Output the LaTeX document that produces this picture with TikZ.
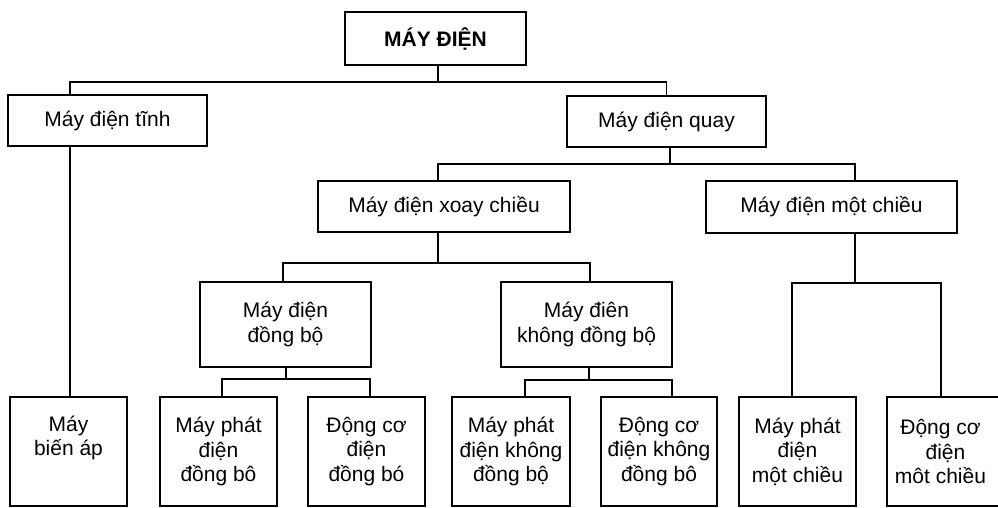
\documentclass[tikz,border=0pt]{standalone}
\usepackage{fontspec}
\setmainfont{Liberation Sans}
\begin{document}
\begin{tikzpicture}[x=1pt,y=-1pt,
  box/.style={draw, line width=1.5pt, rectangle, inner sep=0pt, align=center,
    font=\fontsize{21}{24.5}\selectfont},
  conn/.style={line width=1.5pt}]
\useasboundingbox (0,0) rectangle (998,507);
% boxes
\node[box, line width=1.8pt, minimum width=181pt, minimum height=53pt, font=\fontsize{21}{24.5}\selectfont\bfseries] (root) at (435.5,38.5) {MÁY ĐIỆN};
\node[box, minimum width=199pt, minimum height=51pt] (tinh) at (107.5,120.5) {Máy điện tĩnh};
\node[box, minimum width=199pt, minimum height=51pt] (quay) at (666.5,121.5) {Máy điện quay};
\node[box, minimum width=252pt, minimum height=51pt] (xoay) at (444,206.5) {Máy điện xoay chiều};
\node[box, minimum width=251pt, minimum height=52pt] (motc) at (831.5,207) {Máy điện một chiều};
\node[box, minimum width=171pt, minimum height=85pt] (dongbo) at (285.5,324.5) {Máy điện\\đồng bộ};
\node[box, minimum width=171pt, minimum height=85pt] (kdb) at (586.5,324.5) {Máy điên\\không đồng bộ};
\node[box, minimum width=117pt, minimum height=109pt] (bienap) at (68.5,451.5) {Máy\\biến áp\\\strut};
\node[box, minimum width=117pt, minimum height=109pt] (pd1) at (218.5,451.5) {Máy phát\\điện\\đồng bô};
\node[box, minimum width=117pt, minimum height=109pt] (dc1) at (366.5,451.5) {Động cơ\\điện\\đồng bó};
\node[box, minimum width=118pt, minimum height=109pt] (pd2) at (511,451.5) {Máy phát\\điện không\\đồng bộ};
\node[box, minimum width=116pt, minimum height=109pt] (dc2) at (659,451.5) {Động cơ\\điện không\\đồng bô};
\node[box, minimum width=117pt, minimum height=109pt] (pd3) at (797.5,451.5) {Máy phát\\điện\\một chiều};
\node[box, minimum width=117pt, minimum height=109pt] (dc3) at (945.5,451.5) {Động cơ\hspace*{10pt}\\điện\hspace*{10pt}\\môt chiều\hspace*{10pt}};
% connectors
\draw[conn] ([xshift=2.5pt]root.south) -- ++(0,16) coordinate (b1);
\draw[conn] (b1) -| ([xshift=-37.5pt]tinh.north);
\draw[conn] (b1) -| (quay.north);
\draw[conn] ([xshift=-37.5pt]tinh.south) -- ([xshift=1.5pt]bienap.north);
\draw[conn] ([xshift=3.5pt]quay.south) -- ++(0,16) coordinate (b2);
\draw[conn] (b2) -| ([xshift=-6pt]xoay.north);
\draw[conn] (b2) -| ([xshift=23.5pt]motc.north);
\draw[conn] ([xshift=-6pt]xoay.south) -- ++(0,30) coordinate (b3);
\draw[conn] (b3) -| ([xshift=-2.5pt]dongbo.north);
\draw[conn] (b3) -| ([xshift=3.5pt]kdb.north);
\draw[conn] ([xshift=0.5pt]dongbo.south) -- ++(0,11) coordinate (b4);
\draw[conn] (b4) -| ([xshift=3.5pt]pd1.north);
\draw[conn] (b4) -| ([xshift=3.5pt]dc1.north);
\draw[conn] ([xshift=2.5pt]kdb.south) -- ++(0,12) coordinate (b5);
\draw[conn] (b5) -| ([xshift=14pt]pd2.north);
\draw[conn] (b5) -| ([xshift=13pt]dc2.north);
\draw[conn] ([xshift=23.5pt]motc.south) -- ++(0,49) coordinate (b6);
\draw[conn] (b6) -| ([xshift=-5.5pt]pd3.north);
\draw[conn] (b6) -| ([xshift=-4.5pt]dc3.north);
\end{tikzpicture}
\end{document}
